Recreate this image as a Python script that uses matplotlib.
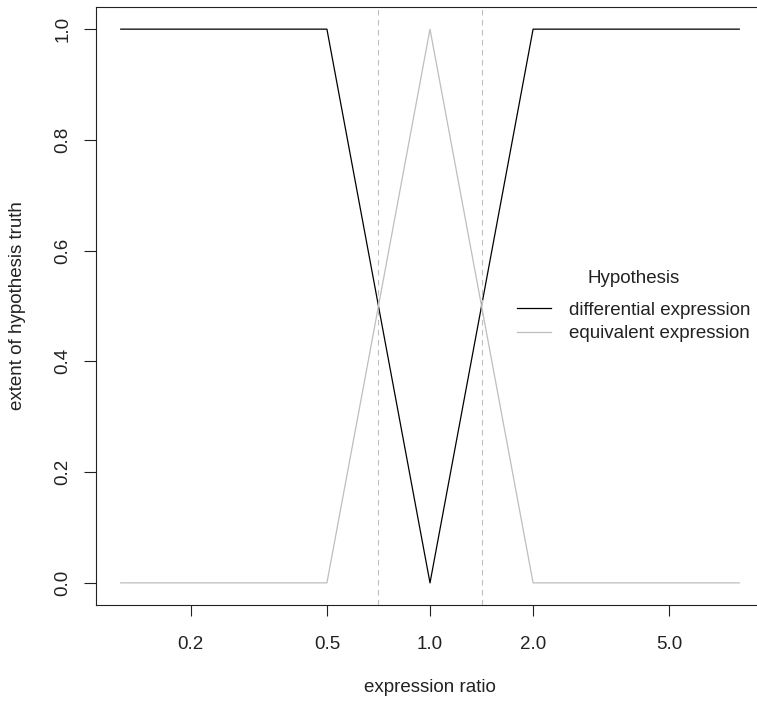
import matplotlib
matplotlib.use("Agg")
import matplotlib.pyplot as plt
import numpy as np

plt.rcParams["font.family"] = ["Liberation Sans", "DejaVu Sans"]

ratio = [0.125, 0.5, 1.0, 2.0, 8.0]
differential = [1, 1, 0, 1, 1]
equivalent = [0, 0, 1, 0, 0]
thresholds = [2 ** -0.5, 2 ** 0.5]
xticks = [0.2, 0.5, 1.0, 2.0, 5.0]
xticklabels = ["0.2", "0.5", "1.0", "2.0", "5.0"]
yticks = [0.0, 0.2, 0.4, 0.6, 0.8, 1.0]
yticklabels = ["0.0", "0.2", "0.4", "0.6", "0.8", "1.0"]

W, H = 757, 704
fs = 13.5
fig = plt.figure(figsize=(W / 100, H / 100), dpi=100)
left, right, top, bottom = 96, 764, 7, 605
ax = fig.add_axes([left / W, 1 - bottom / H, (right - left) / W, (bottom - top) / H])

ax.plot(ratio, differential, color="black", lw=0.9, label="differential expression")
ax.plot(ratio, equivalent, color="#BEBEBE", lw=0.9, label="equivalent expression")
for t in thresholds:
    ax.axvline(t, color="#BEBEBE", lw=0.8, ls=(0, (5, 4)))

ax.set_xscale("log")
ax.set_xlim(2 ** -3.24, 2 ** 3.24)
ax.set_ylim(-0.04, 1.04)
ax.set_xticks(xticks)
ax.set_xticklabels(xticklabels)
ax.minorticks_off()
ax.set_yticks(yticks)
ax.set_yticklabels(yticklabels, rotation=90, va="center")

for s in ax.spines.values():
    s.set_linewidth(0.8)
    s.set_color("#222222")
ax.tick_params(axis="x", length=8, width=0.8, pad=14, labelsize=fs, colors="#222222")
ax.tick_params(axis="y", length=8.5, width=0.8, pad=9, labelsize=fs, colors="#222222")

ax.set_xlabel("expression ratio", fontsize=fs, labelpad=19, color="#222222")
ax.set_ylabel("extent of hypothesis truth", fontsize=fs, labelpad=21, color="#222222")

leg = ax.legend(title="Hypothesis", frameon=False, fontsize=fs, title_fontsize=fs,
                loc="center left", bbox_to_anchor=(509 / W, 1 - 306 / H),
                bbox_transform=fig.transFigure, handlelength=1.85, handletextpad=0.95,
                labelspacing=0.33, borderaxespad=0)
leg.get_title().set_color("#222222")
leg._legend_box.sep = 11
for txt in leg.get_texts():
    txt.set_color("#222222")

fig.savefig("out.png", dpi=100)
